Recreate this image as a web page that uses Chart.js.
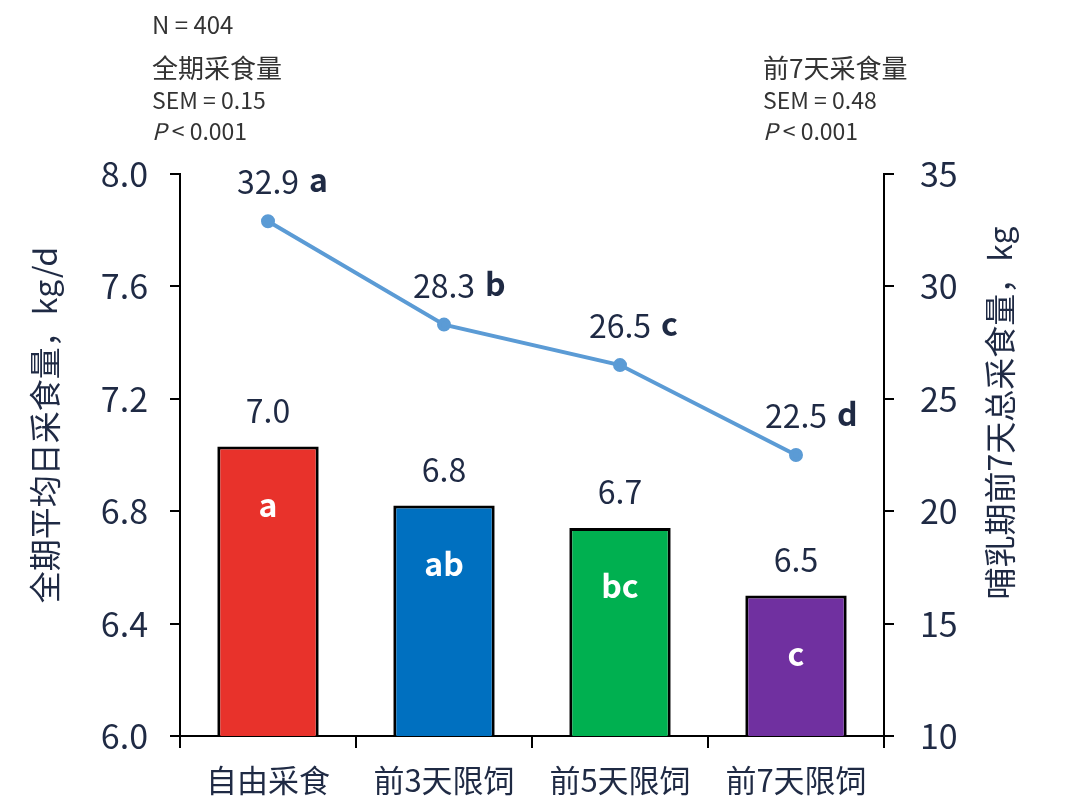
<!DOCTYPE html>
<html lang="zh">
<head>
    <meta charset="UTF-8">
    <title>限饲与采食量</title>
    <script src="https://cdn.jsdelivr.net/npm/chart.js"></script>
    <style>
        body {
            margin: 0;
            padding: 0;
            background-color: #ffffff;
        }
        .wrap {
            position: relative;
            width: 1080px;
            height: 809px;
        }
        canvas {
            display: block;
        }
    </style>
</head>
<body>
    <div class="wrap">
        <canvas id="feedChart" width="1080" height="809"></canvas>
    </div>

    <script>
        // data
        const categories = ["自由采食", "前3天限饲", "前5天限饲", "前7天限饲"];
        const dailyIntake = [7.03, 6.82, 6.74, 6.50];          // left axis, kg/d
        const dailyLetters = ["a", "ab", "bc", "c"];
        const week1Intake = [32.9, 28.3, 26.5, 22.5];           // right axis, kg
        const week1Letters = ["a", "b", "c", "d"];
        const leftTicks = [6.0, 6.4, 6.8, 7.2, 7.6, 8.0];
        const rightTicks = [10, 15, 20, 25, 30, 35];

        const barColors = ["#E8322B", "#0070C0", "#00B050", "#7030A0"];
        const lineColor = "#5B9BD5";
        const textColor = "#1F2A44";
        const FONT = '"Noto Sans CJK SC", "Noto Sans", sans-serif';

        const labelPlugin = {
            id: 'labels',
            afterDatasetsDraw(chart) {
                const ctx = chart.ctx;
                ctx.save();
                ctx.textBaseline = 'middle';

                // bar values and letters
                chart.getDatasetMeta(0).data.forEach((bar, i) => {
                    ctx.fillStyle = textColor;
                    ctx.textAlign = 'center';
                    ctx.font = `32px ${FONT}`;
                    ctx.fillText(dailyIntake[i].toFixed(1), bar.x, bar.y - 36);
                    ctx.fillStyle = '#ffffff';
                    ctx.font = `bold 32px ${FONT}`;
                    ctx.fillText(dailyLetters[i], bar.x, bar.y + 58);
                });

                // line values and letters
                chart.getDatasetMeta(1).data.forEach((pt, i) => {
                    const txt = week1Intake[i].toFixed(1);
                    ctx.fillStyle = textColor;
                    ctx.font = `32px ${FONT}`;
                    ctx.textAlign = 'center';
                    const w = ctx.measureText(txt).width;
                    ctx.fillText(txt, pt.x, pt.y - 39);
                    ctx.font = `bold 32px ${FONT}`;
                    ctx.textAlign = 'left';
                    ctx.fillText(week1Letters[i], pt.x + w / 2 + 10, pt.y - 41);
                });
                ctx.restore();
            },
            afterDraw(chart) {
                const ctx = chart.ctx;
                const area = chart.chartArea;
                const midY = (area.top + area.bottom) / 2;
                ctx.save();
                ctx.fillStyle = textColor;
                ctx.textAlign = 'center';
                ctx.textBaseline = 'middle';
                ctx.font = `32px ${FONT}`;

                // axis titles, both reading bottom to top
                ctx.save();
                ctx.translate(45, midY - 30);
                ctx.rotate(-Math.PI / 2);
                ctx.fillText("全期平均日采食量，kg/d", 0, 0);
                ctx.restore();

                ctx.save();
                ctx.translate(1000, midY - 42);
                ctx.rotate(-Math.PI / 2);
                ctx.fillText("哺乳期前7天总采食量，kg", 0, 0);
                ctx.restore();

                // notes above the chart
                ctx.fillStyle = '#333333';
                ctx.textAlign = 'left';
                ctx.font = `24px ${FONT}`;
                ctx.fillText("N = 404", 152, 25);

                const notes = [
                    [152, "全期采食量", "SEM = 0.15"],
                    [763, "前7天采食量", "SEM = 0.48"]
                ];
                notes.forEach(([x, head, sem]) => {
                    ctx.font = `26px ${FONT}`;
                    ctx.fillText(head, x, 68);
                    ctx.font = `23px ${FONT}`;
                    ctx.fillText(sem, x, 100);
                    ctx.font = `italic 23px ${FONT}`;
                    ctx.fillText("P", x, 131);
                    const pw = ctx.measureText("P ").width;
                    ctx.font = `23px ${FONT}`;
                    ctx.fillText("< 0.001", x + pw, 131);
                });
                ctx.restore();
            }
        };

        const ctx = document.getElementById('feedChart').getContext('2d');
        new Chart(ctx, {
            type: 'bar',
            data: {
                labels: categories,
                datasets: [
                    {
                        type: 'bar',
                        label: '全期平均日采食量',
                        data: dailyIntake,
                        yAxisID: 'y',
                        backgroundColor: barColors,
                        borderColor: '#000000',
                        borderWidth: 3,
                        borderSkipped: 'bottom',
                        barPercentage: 0.64,
                        categoryPercentage: 0.9,
                        order: 2
                    },
                    {
                        type: 'line',
                        label: '哺乳期前7天总采食量',
                        data: week1Intake,
                        yAxisID: 'y2',
                        borderColor: lineColor,
                        backgroundColor: lineColor,
                        borderWidth: 4,
                        pointRadius: 5,
                        pointHoverRadius: 5,
                        tension: 0,
                        order: 1
                    }
                ]
            },
            options: {
                responsive: false,
                animation: false,
                layout: { padding: { top: 174, left: 0, right: 0, bottom: 0 } },
                plugins: {
                    legend: { display: false },
                    tooltip: { enabled: false }
                },
                scales: {
                    x: {
                        offset: true,
                        grid: {
                            offset: true,
                            drawOnChartArea: false,
                            color: '#000000',
                            lineWidth: 2,
                            tickLength: 12
                        },
                        border: { color: '#000000', width: 2 },
                        ticks: {
                            color: textColor,
                            font: { family: FONT, size: 31 },
                            padding: 14,
                            maxRotation: 0
                        },
                        afterFit(scale) { scale.height = 73; }
                    },
                    y: {
                        position: 'left',
                        min: 6,
                        max: 8,
                        afterBuildTicks(scale) {
                            scale.ticks = leftTicks.map(v => ({ value: v }));
                        },
                        grid: {
                            drawOnChartArea: false,
                            color: '#000000',
                            lineWidth: 2,
                            tickLength: 10
                        },
                        border: { color: '#000000', width: 2 },
                        ticks: {
                            color: textColor,
                            font: { family: FONT, size: 34 },
                            padding: 22,
                            callback: v => Number(v).toFixed(1)
                        },
                        afterFit(scale) { scale.width = 180; }
                    },
                    y2: {
                        position: 'right',
                        min: 10,
                        max: 35,
                        afterBuildTicks(scale) {
                            scale.ticks = rightTicks.map(v => ({ value: v }));
                        },
                        grid: {
                            drawOnChartArea: false,
                            color: '#000000',
                            lineWidth: 2,
                            tickLength: 10
                        },
                        border: { color: '#000000', width: 2 },
                        ticks: {
                            color: textColor,
                            font: { family: FONT, size: 34 },
                            padding: 26
                        },
                        afterFit(scale) { scale.width = 196; }
                    }
                }
            },
            plugins: [labelPlugin]
        });
    </script>
</body>
</html>
